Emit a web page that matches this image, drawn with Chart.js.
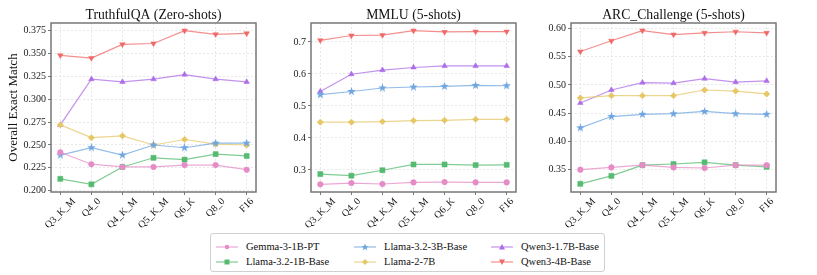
<!DOCTYPE html>
<html>
<head>
<meta charset="utf-8">
<script src="https://cdn.jsdelivr.net/npm/chart.js@4.4.1/dist/chart.umd.min.js"></script>
<style>
  body { margin: 0; background: #fff; width: 817px; height: 275px; position: relative; overflow: hidden; font-family: "Liberation Serif", serif; }
  .box { position: absolute; top: 0; height: 230px; }
  #legend { position: absolute; left: 210px; top: 233px; width: 395px; height: 39px; border: 1px solid #d0d0d0; border-radius: 3px; box-sizing: border-box; }
  .item { position: absolute; height: 14px; font-size: 10.5px; color: #111; line-height: 14px; white-space: nowrap; }
  .item svg { position: absolute; left: 0; top: 2px; }
  .item span { position: absolute; left: 30px; top: 0; }
</style>
</head>
<body>
<div class="box" style="left:0;width:264px"><canvas id="c1"></canvas></div>
<div class="box" style="left:275px;width:249px"><canvas id="c2"></canvas></div>
<div class="box" style="left:535px;width:249px"><canvas id="c3"></canvas></div>
<div id="legend"></div>
<script>
const categories = ['Q3_K_M', 'Q4_0', 'Q4_K_M', 'Q5_K_M', 'Q6_K', 'Q8_0', 'F16'];
const models = ['Gemma-3-1B-PT', 'Llama-3.2-1B-Base', 'Llama-3.2-3B-Base', 'Llama-2-7B', 'Qwen3-1.7B-Base', 'Qwen3-4B-Base'];

// TruthfulQA (Zero-shots)
const tqaGemma   = [0.242, 0.229, 0.226, 0.226, 0.228, 0.228, 0.223];
const tqaLlama1B = [0.213, 0.207, 0.226, 0.236, 0.234, 0.240, 0.238];
const tqaLlama3B = [0.239, 0.247, 0.239, 0.250, 0.247, 0.252, 0.252];
const tqaLlama7B = [0.272, 0.258, 0.260, 0.250, 0.256, 0.251, 0.250];
const tqaQwen17B = [0.272, 0.322, 0.319, 0.322, 0.327, 0.322, 0.319];
const tqaQwen4B  = [0.348, 0.345, 0.360, 0.361, 0.375, 0.371, 0.372];
const tqaTicks = [0.200, 0.225, 0.250, 0.275, 0.300, 0.325, 0.350, 0.375];

// MMLU (5-shots)
const mmluGemma   = [0.255, 0.259, 0.256, 0.261, 0.262, 0.261, 0.261];
const mmluLlama1B = [0.287, 0.282, 0.299, 0.317, 0.317, 0.315, 0.316];
const mmluLlama3B = [0.535, 0.545, 0.556, 0.559, 0.561, 0.564, 0.563];
const mmluLlama7B = [0.449, 0.449, 0.451, 0.454, 0.455, 0.458, 0.458];
const mmluQwen17B = [0.545, 0.599, 0.612, 0.620, 0.625, 0.625, 0.625];
const mmluQwen4B  = [0.705, 0.720, 0.721, 0.735, 0.731, 0.732, 0.732];
const mmluTicks = [0.3, 0.4, 0.5, 0.6, 0.7];

// ARC_Challenge (5-shots)
const arcGemma   = [0.350, 0.354, 0.358, 0.354, 0.353, 0.358, 0.358];
const arcLlama1B = [0.325, 0.339, 0.358, 0.360, 0.363, 0.358, 0.355];
const arcLlama3B = [0.424, 0.444, 0.448, 0.449, 0.453, 0.449, 0.448];
const arcLlama7B = [0.477, 0.481, 0.481, 0.481, 0.491, 0.489, 0.484];
const arcQwen17B = [0.468, 0.491, 0.504, 0.503, 0.511, 0.505, 0.507];
const arcQwen4B  = [0.559, 0.578, 0.596, 0.589, 0.592, 0.594, 0.592];
const arcTicks = [0.35, 0.40, 0.45, 0.50, 0.55, 0.60];

const colors = ['#e58bc6', '#55bb70', '#6fa6df', '#e6c766', '#ad6de8', '#f06868'];
const fade = ['rgba(229,139,198,0.75)', 'rgba(85,187,112,0.75)', 'rgba(111,166,223,0.75)', 'rgba(230,199,102,0.75)', 'rgba(173,109,232,0.75)', 'rgba(240,104,104,0.75)'];
const serif = "'Liberation Serif', 'Times New Roman', serif";
Chart.defaults.font.family = serif;

function makeStar(color, size) {
  const c = document.createElement('canvas');
  c.width = c.height = size;
  const g = c.getContext('2d');
  g.fillStyle = color;
  g.beginPath();
  for (let i = 0; i < 10; i++) {
    const r = i % 2 ? size * 0.2 : size * 0.5;
    const a = -Math.PI / 2 + i * Math.PI / 5;
    g.lineTo(size / 2 + r * Math.cos(a), size / 2 + r * Math.sin(a));
  }
  g.closePath();
  g.fill();
  return c;
}

const pointStyles = ['circle', 'rect', makeStar(colors[2], 9), 'rectRot', 'triangle', 'triangle'];
const pointRot = [0, 0, 0, 0, 0, 180];
const pointRad = [2.8, 3.6, 3, 3.2, 3.2, 3.2];

// axes frame, title centred on the plot area, matplotlib-style rotated x labels
const decor = {
  id: 'decor',
  afterDraw(chart) {
    const a = chart.chartArea, ctx = chart.ctx;
    ctx.save();
    ctx.strokeStyle = '#777';
    ctx.lineWidth = 1.5;
    ctx.strokeRect(a.left, a.top, a.right - a.left, a.bottom - a.top);

    ctx.fillStyle = '#111';
    ctx.font = '13.7px ' + serif;
    ctx.textAlign = 'center';
    ctx.textBaseline = 'middle';
    ctx.fillText(chart.options.plugins.panelTitle, (a.left + a.right) / 2, 15.5);

    const xs = chart.scales.x;
    ctx.font = '10px ' + serif;
    const h = 8;
    categories.forEach((c, i) => {
      const w = ctx.measureText(c).width;
      const half = (w + h) * Math.SQRT1_2 / 2;
      ctx.save();
      ctx.translate(xs.getPixelForValue(i), a.bottom + 5 + half);
      ctx.rotate(-Math.PI / 4);
      ctx.fillText(c, 0, 0);
      ctx.restore();
    });
    ctx.restore();
  }
};

function makeChart(id, title, series, yTicks, yMin, yMax, decimals, yWidth, yTitle) {
  new Chart(document.getElementById(id), {
    type: 'line',
    data: {
      datasets: series.map((vals, k) => ({
        label: models[k],
        data: vals.map((v, i) => ({ x: i, y: v })),
        borderColor: fade[k],
        backgroundColor: colors[k],
        borderWidth: 1.2,
        pointStyle: pointStyles[k],
        rotation: pointRot[k],
        pointRadius: pointRad[k],
        pointBorderWidth: 0.5,
        pointBorderColor: colors[k],
        tension: 0
      }))
    },
    options: {
      responsive: true,
      maintainAspectRatio: false,
      animation: false,
      layout: { padding: { left: 0, right: 8, top: 23, bottom: 0 } },
      plugins: {
        legend: { display: false },
        tooltip: { enabled: false },
        title: { display: false },
        panelTitle: title
      },
      scales: {
        x: {
          type: 'linear', min: -0.3, max: 6.3,
          afterBuildTicks: ax => { ax.ticks = categories.map((c, i) => ({ value: i })); },
          afterFit: ax => { ax.height = 38; },
          ticks: { display: false },
          grid: { color: '#e2e2e2', lineWidth: 0.8, drawTicks: true, tickLength: 3, tickColor: '#555', tickWidth: 0.8, tickBorderDash: [] },
          border: { display: false, dash: [2, 2] }
        },
        y: {
          min: yMin, max: yMax,
          afterBuildTicks: ax => { ax.ticks = yTicks.map(v => ({ value: v })); },
          afterFit: ax => { ax.width = yWidth; },
          ticks: {
            padding: 2, color: '#222',
            font: { family: serif, size: 10 },
            callback: v => Number(v).toFixed(decimals)
          },
          title: {
            display: !!yTitle, text: yTitle || '', color: '#111',
            font: { family: serif, size: 13 }, padding: { top: 6, bottom: 0 }
          },
          grid: { color: '#e2e2e2', lineWidth: 0.8, drawTicks: true, tickLength: 3, tickColor: '#555', tickWidth: 0.8, tickBorderDash: [] },
          border: { display: false, dash: [2, 2] }
        }
      }
    },
    plugins: [decor]
  });
}

makeChart('c1', 'TruthfulQA (Zero-shots)',
  [tqaGemma, tqaLlama1B, tqaLlama3B, tqaLlama7B, tqaQwen17B, tqaQwen4B],
  tqaTicks, 0.1986, 0.3834, 3, 51, 'Overall Exact Match');
makeChart('c2', 'MMLU (5-shots)',
  [mmluGemma, mmluLlama1B, mmluLlama3B, mmluLlama7B, mmluQwen17B, mmluQwen4B],
  mmluTicks, 0.231, 0.759, 1, 36, null);
makeChart('c3', 'ARC_Challenge (5-shots)',
  [arcGemma, arcLlama1B, arcLlama3B, arcLlama7B, arcQwen17B, arcQwen4B],
  arcTicks, 0.3105, 0.6095, 2, 36, null);

// legend
const legend = document.getElementById('legend');
const colX = [5, 143, 280];
const rowY = [6, 21];
models.forEach((m, k) => {
  const col = Math.floor(k / 2), row = k % 2;
  const div = document.createElement('div');
  div.className = 'item';
  div.style.left = colX[col] + 'px';
  div.style.top = rowY[row] + 'px';
  let marker = '';
  const c = colors[k];
  if (k === 0) marker = `<circle cx="11" cy="5" r="2.2" fill="${c}"/>`;
  if (k === 1) marker = `<rect x="8.5" y="2.5" width="5" height="5" fill="${c}"/>`;
  if (k === 2) marker = `<polygon points="11,1.5 12,4 14.5,4 12.5,5.7 13.2,8.5 11,6.8 8.8,8.5 9.5,5.7 7.5,4 10,4" fill="${c}"/>`;
  if (k === 3) marker = `<polygon points="11,2 14,5 11,8 8,5" fill="${c}"/>`;
  if (k === 4) marker = `<polygon points="11,2 14,7.5 8,7.5" fill="${c}"/>`;
  if (k === 5) marker = `<polygon points="11,8 14,2.5 8,2.5" fill="${c}"/>`;
  div.innerHTML = `<svg width="24" height="10"><line x1="0" y1="5" x2="22" y2="5" stroke="${fade[k]}" stroke-width="1.2"/>${marker}</svg><span>${m}</span>`;
  legend.appendChild(div);
});
</script>
</body>
</html>
